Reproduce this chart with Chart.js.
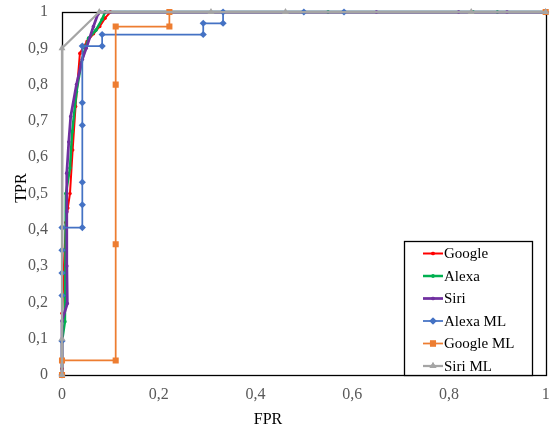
<!DOCTYPE html>
<html>
<head>
<meta charset="utf-8">
<script src="https://cdn.jsdelivr.net/npm/chart.js@4/dist/chart.umd.min.js"></script>
<style>
  html, body { margin: 0; padding: 0; background: #fff; }
  #wrap { width: 550px; height: 429px; position: relative; }
</style>
</head>
<body>
<div id="wrap"><canvas id="c" width="550" height="429"></canvas></div>
<script>
// ---- Data ----
const seriesNames = ['Google', 'Alexa', 'Siri', 'Alexa ML', 'Google ML', 'Siri ML'];

const googleFPR = [0, 0, 0, 0.004, 0.008, 0.012, 0.0165, 0.022, 0.028, 0.037, 0.045, 0.052, 0.065, 0.078, 0.089, 0.1, 1];
const googleTPR = [0, 0.017, 0.17, 0.3, 0.42, 0.46, 0.5, 0.62, 0.74, 0.886, 0.905, 0.919, 0.94, 0.96, 0.983, 1, 1];

const alexaFPR = [0, 0, 0.006, 0.008, 0.0165, 0.021, 0.03, 0.04, 0.048, 0.055, 0.07, 0.083, 0.089, 0.55, 0.85, 0.9, 1];
const alexaTPR = [0, 0.092, 0.147, 0.5, 0.57, 0.67, 0.78, 0.86, 0.9, 0.928, 0.95, 0.98, 1, 1, 1, 1, 1];

const siriFPR = [0, 0, 0.011, 0.01, 0.01, 0.0097, 0.014, 0.018, 0.03, 0.042, 0.05, 0.065, 0.074, 0.079, 0.65, 0.82, 0.92, 1];
const siriTPR = [0, 0.149, 0.197, 0.3, 0.45, 0.556, 0.642, 0.712, 0.8, 0.87, 0.9, 0.96, 0.994, 1, 1, 1, 1, 1];

const alexaMLFPR = [0, 0, 0, 0, 0, 0, 0.042, 0.042, 0.042, 0.042, 0.042, 0.042, 0.083, 0.083, 0.292, 0.292, 0.333, 0.333, 0.5, 0.583, 1];
const alexaMLTPR = [0, 0.094, 0.219, 0.281, 0.344, 0.406, 0.406, 0.469, 0.531, 0.688, 0.75, 0.906, 0.906, 0.938, 0.938, 0.969, 0.969, 1, 1, 1, 1];

const googleMLFPR = [0, 0, 0.111, 0.111, 0.111, 0.111, 0.222, 0.222, 1];
const googleMLTPR = [0, 0.04, 0.04, 0.36, 0.8, 0.96, 0.96, 1, 1];

const siriMLFPR = [0, 0, 0, 0.077, 0.308, 0.462, 0.846, 1];
const siriMLTPR = [0, 0.1, 0.9, 1, 1, 1, 1, 1];

const xTickLabels = ['0', '0,2', '0,4', '0,6', '0,8', '1'];
const yTickLabels = ['0', '0,1', '0,2', '0,3', '0,4', '0,5', '0,6', '0,7', '0,8', '0,9', '1'];
const xTitle = 'FPR';
const yTitle = 'TPR';

// ---- Build ----
function pts(xs, ys) { return xs.map((x, i) => ({ x: x, y: ys[i] })); }

const styles = [
  { color: '#FF0000', pointStyle: 'circle', r: 1.8, w: 2 },
  { color: '#00B050', pointStyle: 'circle', r: 1.8, w: 2.5 },
  { color: '#7030A0', pointStyle: 'circle', r: 1.8, w: 2.75 },
  { color: '#4472C4', pointStyle: 'rectRot', r: 3.6, w: 1.75 },
  { color: '#ED7D31', pointStyle: 'rect', r: 4.3, w: 1.75 },
  { color: '#A5A5A5', pointStyle: 'triangle', r: 4, w: 2.25 }
];
const seriesData = [
  pts(googleFPR, googleTPR), pts(alexaFPR, alexaTPR), pts(siriFPR, siriTPR),
  pts(alexaMLFPR, alexaMLTPR), pts(googleMLFPR, googleMLTPR), pts(siriMLFPR, siriMLTPR)
];

const datasets = seriesNames.map((name, i) => ({
  label: name,
  data: seriesData[i],
  showLine: true,
  borderColor: styles[i].color,
  backgroundColor: styles[i].color,
  borderWidth: styles[i].w,
  pointStyle: styles[i].pointStyle,
  pointRadius: styles[i].r,
  pointBorderWidth: 0,
  pointHoverRadius: styles[i].r,
  tension: 0,
  clip: 6,
  order: seriesNames.length - i
}));

const FONT = '"Liberation Serif", "Times New Roman", serif';

const framePlugin = {
  id: 'frame',
  beforeDatasetsDraw(chart) {
    const a = chart.chartArea, ctx = chart.ctx;
    ctx.save();
    ctx.strokeStyle = '#000';
    ctx.lineWidth = 1.3;
    ctx.strokeRect(Math.round(a.left) + 0.5, Math.round(a.top) + 0.5,
                   Math.round(a.right - a.left), Math.round(a.bottom - a.top));
    ctx.restore();
  },
  afterDraw(chart) {
    const ctx = chart.ctx;
    ctx.save();
    // axis titles
    ctx.fillStyle = '#000';
    ctx.font = '16px ' + FONT;
    ctx.textAlign = 'center';
    ctx.textBaseline = 'middle';
    ctx.fillText(xTitle, 268, 420);
    ctx.save();
    ctx.translate(22, 188);
    ctx.rotate(-Math.PI / 2);
    ctx.fillText(yTitle, 0, 0);
    ctx.restore();

    // legend
    const lx = 404, ly = 241, lw = 128, lh = 134;
    ctx.fillStyle = '#fff';
    ctx.fillRect(lx, ly, lw, lh);
    ctx.strokeStyle = '#000';
    ctx.lineWidth = 1.3;
    ctx.strokeRect(lx + 0.5, ly + 0.5, lw, lh);
    ctx.textAlign = 'left';
    ctx.textBaseline = 'middle';
    chart.data.datasets.forEach((ds, i) => {
      const y = 253.5 + i * 22.5;
      ctx.strokeStyle = ds.borderColor;
      ctx.lineWidth = ds.borderWidth;
      ctx.beginPath();
      ctx.moveTo(423, y);
      ctx.lineTo(443, y);
      ctx.stroke();
      ctx.fillStyle = ds.backgroundColor;
      Chart.helpers.drawPoint(ctx, { pointStyle: ds.pointStyle, radius: ds.pointRadius, borderWidth: 0, rotation: 0 }, 433, y);
      ctx.fill();
      ctx.fillStyle = '#000';
      ctx.font = '15px ' + FONT;
      ctx.fillText(ds.label, 444, y + 1);
    });
    ctx.restore();
  }
};

new Chart(document.getElementById('c'), {
  type: 'scatter',
  data: { datasets: datasets },
  options: {
    responsive: false,
    animation: false,
    events: [],
    layout: { padding: { top: 12, right: 4, left: 0, bottom: 0 } },
    plugins: { legend: { display: false }, tooltip: { enabled: false } },
    scales: {
      x: {
        type: 'linear', min: 0, max: 1,
        grid: { display: false, drawTicks: false },
        border: { display: false },
        ticks: {
          stepSize: 0.2, padding: 10, color: '#595959',
          font: { family: FONT, size: 16 },
          callback: (v) => { const i = Math.round(v / 0.2); return xTickLabels[i]; }
        },
        afterFit: (s) => { s.height = 54; s.paddingLeft = 0; s.paddingRight = 0; s.paddingTop = 0; s.paddingBottom = 0; }
      },
      y: {
        type: 'linear', min: 0, max: 1,
        grid: { display: false, drawTicks: false },
        border: { display: false },
        ticks: {
          stepSize: 0.1, padding: 14, color: '#595959',
          font: { family: FONT, size: 16 },
          callback: (v) => { const i = Math.round(v / 0.1); return yTickLabels[i]; }
        },
        afterFit: (s) => { s.width = 62; s.paddingLeft = 0; s.paddingRight = 0; s.paddingTop = 0; s.paddingBottom = 0; }
      }
    }
  },
  plugins: [framePlugin]
});
</script>
</body>
</html>
